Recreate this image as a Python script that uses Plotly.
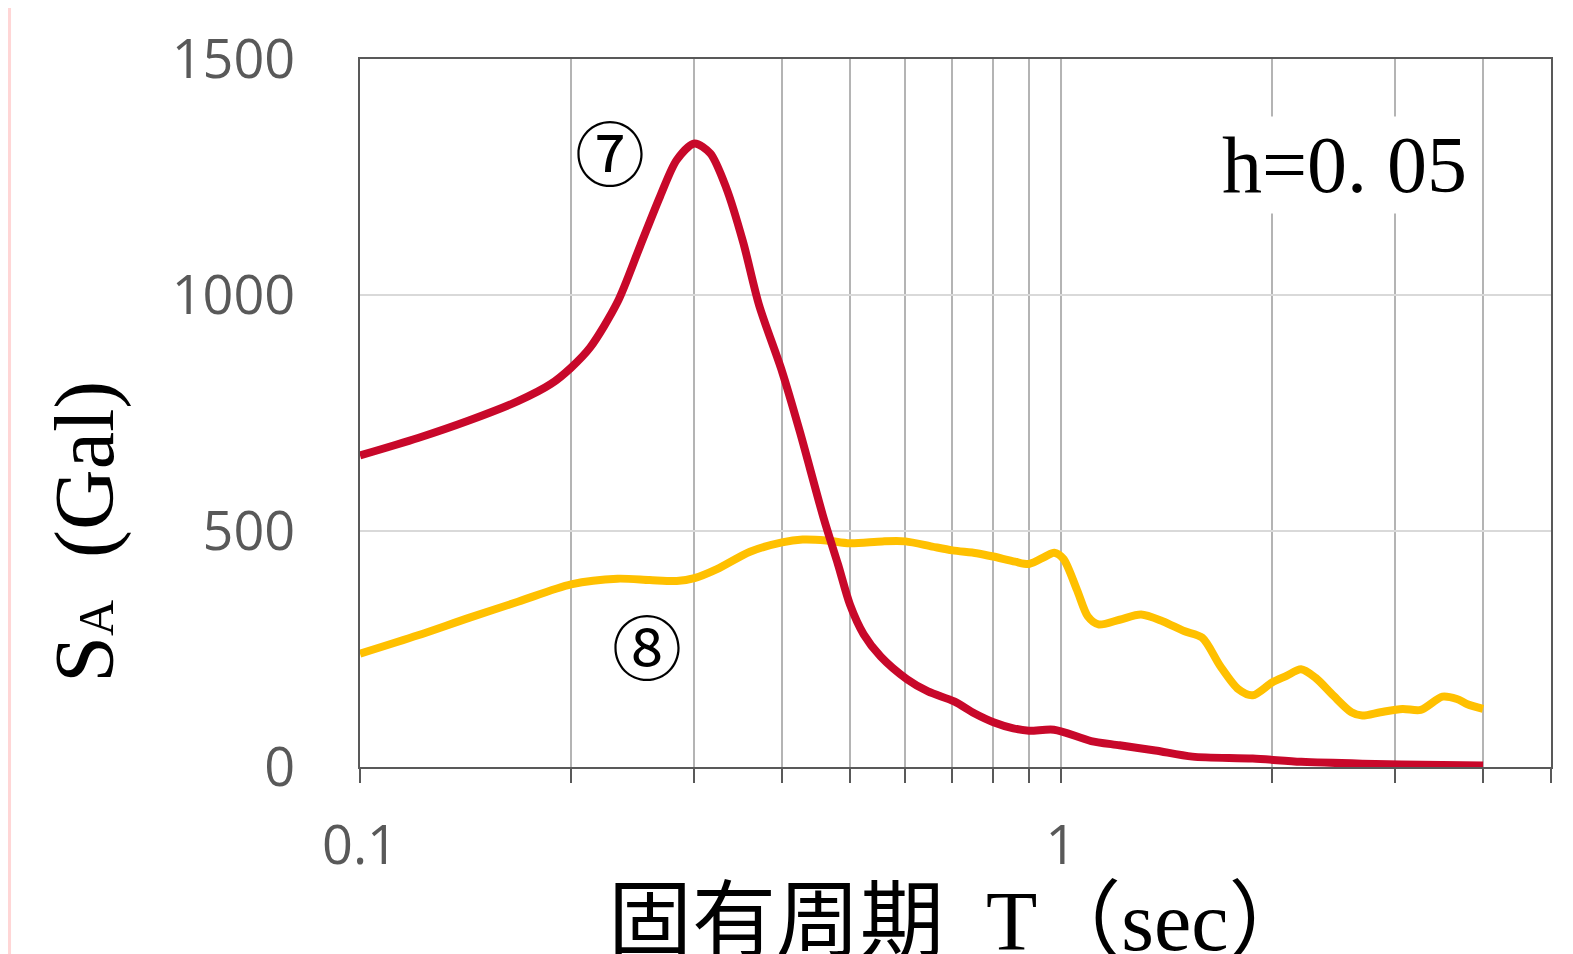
import math
import plotly.graph_objects as go

# Red curve (7)
t7 = [0.1, 0.121, 0.143, 0.168, 0.187, 0.2, 0.213, 0.233, 0.251, 0.268, 0.283, 0.3,
      0.316, 0.333, 0.352, 0.371, 0.4, 0.424, 0.459, 0.481, 0.5, 0.523, 0.553,
      0.603, 0.646, 0.704, 0.752, 0.801, 0.855, 0.9, 0.977, 1.067, 1.104, 1.212, 1.363, 1.54,
      1.877, 2.2, 2.69, 3.5, 4.0]
sa7 = [660, 697, 734, 775, 811, 846, 889, 985, 1104, 1209, 1286, 1321,
       1300, 1227, 1112, 978, 838, 711, 525, 428, 344, 281, 234,
       186, 160, 139, 114, 95, 82, 77, 79, 62, 55, 46, 35, 22,
       18, 11, 7, 4, 3]

# Yellow curve (8)
t8 = [0.1, 0.121, 0.143, 0.168, 0.2, 0.233, 0.259, 0.283, 0.3, 0.323, 0.36, 0.4,
      0.428, 0.463, 0.5, 0.556, 0.6, 0.655, 0.7, 0.758, 0.8, 0.86, 0.9, 0.95, 0.978,
      1.008, 1.054, 1.092, 1.131, 1.212, 1.301, 1.396, 1.498, 1.59, 1.687, 1.79,
      1.877, 2.0, 2.097, 2.2, 2.307, 2.447, 2.596, 2.69, 2.855, 3.07, 3.26, 3.5,
      3.67, 3.8, 4.0]
sa8 = [240, 279, 316, 350, 387, 399, 396, 394, 400, 419, 456, 476,
       482, 480, 474, 478, 478, 467, 459, 453, 446, 435, 430, 446, 454,
       441, 375, 319, 302, 312, 323, 309, 288, 274, 214, 165,
       152, 179, 193, 207, 189, 151, 116, 109, 116, 123, 121, 149,
       144, 133, 123]

x_tickvals = [0.1, 0.2, 0.3, 0.4, 0.5, 0.6, 0.7, 0.8, 0.9, 1, 2, 3, 4, 5]
x_ticktext = ["0.1", "", "", "", "", "", "", "", "", "1", "", "", "", ""]
y_tickvals = [0, 500, 1000, 1500]
y_ticktext = ["0", "500", "1000", "1500"]

fig = go.Figure()
fig.add_trace(go.Scatter(x=t8, y=sa8, mode="lines", line=dict(color="#FFC000", width=8, shape="spline", smoothing=0.8),
                         showlegend=False, hoverinfo="skip"))
fig.add_trace(go.Scatter(x=t7, y=sa7, mode="lines", line=dict(color="#C8082A", width=8, shape="spline", smoothing=0.8),
                         showlegend=False, hoverinfo="skip"))

serif = "Liberation Serif, Noto Sans CJK JP"

fig.update_layout(
    width=1573, height=954,
    margin=dict(l=352, r=30, t=48, b=195),
    paper_bgcolor="white", plot_bgcolor="white",
    xaxis=dict(type="log", range=[-1, math.log10(5)], tickvals=x_tickvals, ticktext=x_ticktext,
               showgrid=True, gridcolor="#B4B4B4", gridwidth=2,
               showline=True, linecolor="#595959", linewidth=2, mirror=True,
               ticks="outside", ticklen=14, tickwidth=2, tickcolor="#595959",
               ticklabelstandoff=16,
               tickfont=dict(family="Open Sans", size=54, color="#595959"),
               zeroline=False),
    yaxis=dict(range=[0, 1500], tickvals=y_tickvals, ticktext=y_ticktext,
               showgrid=True, gridcolor="#D9D9D9", gridwidth=2,
               showline=True, linecolor="#595959", linewidth=2, mirror=True,
               ticks="", ticklabelstandoff=52,
               tickfont=dict(family="Open Sans", size=54, color="#595959"),
               zeroline=False),
    shapes=[
        dict(type="line", xref="x", yref="paper", x0=1, x1=1, y0=0, y1=1,
             line=dict(color="#595959", width=2), layer="below"),
        dict(type="rect", xref="paper", yref="paper", x0=-0.2956, x1=-0.2930, y0=-0.5, y1=1.5,
             fillcolor="#FFD6D6", line=dict(width=0), layer="below"),
    ],
    annotations=[
        dict(text="⑦", x=math.log10(0.227), y=1306, xref="x", yref="y", showarrow=False,
             xanchor="center", yanchor="middle",
             font=dict(family="Noto Sans CJK JP", size=70, color="black")),
        dict(text="⑧", x=math.log10(0.257), y=259, xref="x", yref="y", showarrow=False,
             xanchor="center", yanchor="middle",
             font=dict(family="Noto Sans CJK JP", size=70, color="black")),
        dict(text="h=0. 05", x=math.log10(2.535), y=1275, xref="x", yref="y", showarrow=False,
             xanchor="center", yanchor="middle",
             bgcolor="white", borderpad=4,
             font=dict(family=serif, size=80, color="black")),
        dict(text="S<span style='font-size:50px'>A</span>  (Gal)", x=-0.231, y=0.332,
             xref="paper", yref="paper", xanchor="center", yanchor="middle",
             textangle=-90, showarrow=False,
             font=dict(family=serif, size=84, color="black")),
        dict(text="固有周期\u00a0\u00a0T（sec）", x=0.504, y=-0.218, xref="paper", yref="paper",
             xanchor="center", yanchor="middle",
             showarrow=False, font=dict(family=serif, size=84, color="black")),
    ],
)

fig.write_html("out.html")
